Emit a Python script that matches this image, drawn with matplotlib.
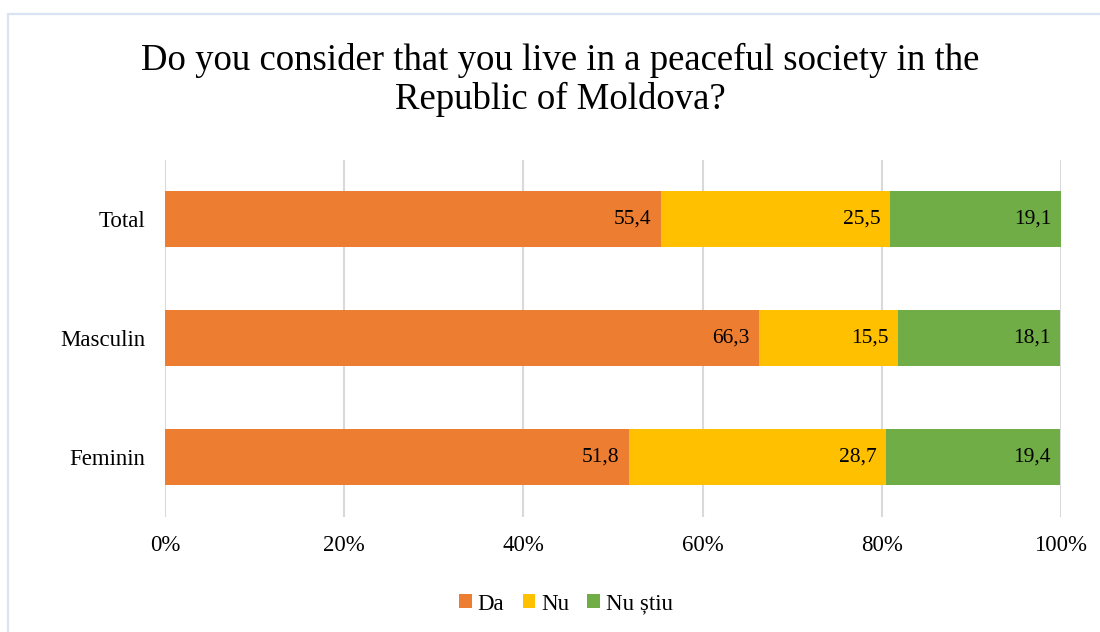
import matplotlib
matplotlib.use("Agg")
import matplotlib.pyplot as plt
from matplotlib.patches import Rectangle

categories = ["Total", "Masculin", "Feminin"]
da = [55.4, 66.3, 51.8]
nu = [25.5, 15.5, 28.7]
nu_stiu = [19.1, 18.1, 19.4]
series_names = ["Da", "Nu", "Nu știu"]
colors = ["#ED7D31", "#FFC000", "#70AD47"]
xticks = [0, 20, 40, 60, 80, 100]
xtick_labels = ["0%", "20%", "40%", "60%", "80%", "100%"]

plt.rcParams["font.family"] = ["Liberation Serif", "DejaVu Serif"]

fig = plt.figure(figsize=(11, 6.32), dpi=100)
fig.patches.append(Rectangle((8 / 1100, -0.05), 1.2, (632 - 14) / 632 + 0.05,
                             transform=fig.transFigure, fill=False,
                             edgecolor="#DAE3F3", linewidth=1.6, zorder=0))

ax = fig.add_axes([165 / 1100, 115.5 / 632, 896 / 1100, 357 / 632])

ypos = list(range(len(categories)))
left = [0.0] * len(categories)
for name, vals, col in zip(series_names, [da, nu, nu_stiu], colors):
    ax.barh(ypos, vals, left=left, height=0.47, color=col, label=name, zorder=3)
    for y, l, v in zip(ypos, left, vals):
        ax.annotate(f"{v:.1f}".replace(".", ","), xy=(l + v, y),
                    xytext=(-7, 0), textcoords="offset points",
                    ha="right", va="center", fontsize=15.5, color="#000000", zorder=4)
    left = [l + v for l, v in zip(left, vals)]

ax.set_xlim(0, 100)
ax.set_ylim(len(categories) - 0.5, -0.5)
ax.set_yticks(ypos)
ax.set_yticklabels(categories, fontsize=16.5)
ax.set_xticks(xticks)
ax.set_xticklabels(xtick_labels, fontsize=16.5)
ax.tick_params(length=0)
ax.tick_params(axis="x", pad=13)
ax.tick_params(axis="y", pad=14)
ax.xaxis.grid(True, color="#D9D9D9", linewidth=1.5, zorder=0)
for s in ax.spines.values():
    s.set_visible(False)

fig.text(560 / 1100, 1 - 80 / 632,
         "Do you consider that you live in a peaceful society in the\nRepublic of Moldova?",
         ha="center", va="center", fontsize=26.5, linespacing=1.17)

fig.legend(loc="center", bbox_to_anchor=(566 / 1100, 1 - 604 / 632), ncol=3,
           frameon=False, fontsize=16.5, handlelength=0.55, handleheight=0.55,
           handletextpad=0.25, columnspacing=0.8)

fig.savefig("out.png", dpi=100)
